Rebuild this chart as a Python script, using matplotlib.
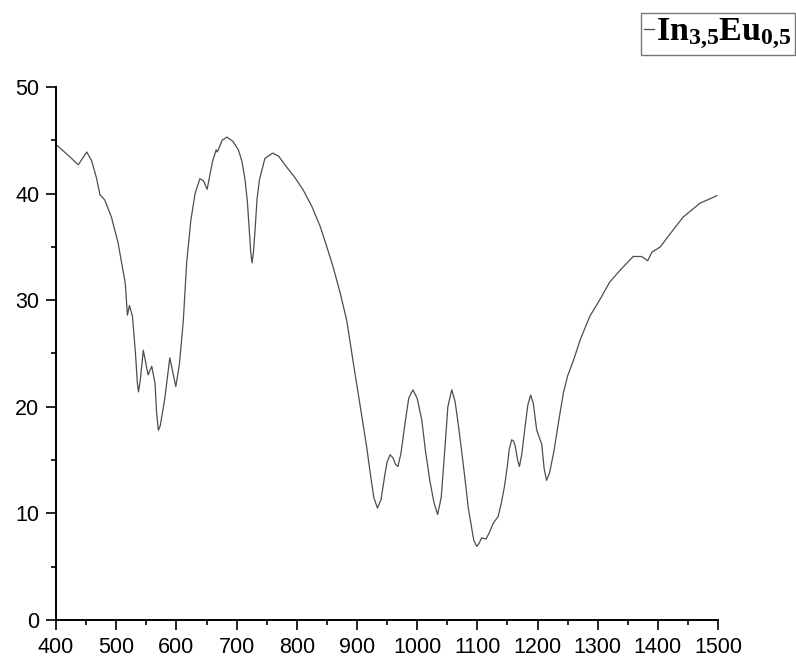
import matplotlib
matplotlib.use('Agg')
import matplotlib.pyplot as plt
from matplotlib.ticker import MultipleLocator

# wavenumber / transmittance
wavenumber = [400, 420, 437, 451, 459, 467, 473, 481, 492, 503, 515, 518.6, 522, 527, 532,
              535, 537, 540, 545, 553, 559, 564.5, 567, 570, 573, 577, 581, 589, 599, 605,
              611.5, 617, 624, 631, 639, 645, 651, 660, 666, 668, 676, 684, 694, 703, 709,
              714, 718, 721, 723.5, 725.7, 728, 730.7, 734, 738, 747, 760, 770, 783, 797,
              811, 825, 839, 850, 861, 872, 883, 894, 908, 916, 922, 928, 934, 940, 946,
              950, 955, 960, 964, 968, 973, 980, 986, 993, 1000, 1007.6, 1014, 1021, 1028,
              1034, 1040, 1046, 1051, 1057.5, 1063, 1068, 1074, 1080, 1085, 1090, 1094,
              1099, 1103, 1107, 1114.5, 1120, 1126.6, 1134.5, 1140, 1145, 1150, 1153, 1157,
              1160, 1163, 1167, 1170, 1174, 1179, 1184, 1188.7, 1193, 1198.7, 1207, 1211,
              1215, 1220, 1227.5, 1235, 1243, 1250, 1260, 1271, 1287, 1304, 1320, 1337,
              1359, 1373, 1383, 1390, 1404, 1420, 1442, 1470, 1498]
transmittance = [44.6, 43.6, 42.7, 43.9, 43.1, 41.5, 39.9, 39.4, 37.8, 35.4, 31.6, 28.6, 29.5,
                 28.5, 25.0, 22.3, 21.4, 22.5, 25.3, 23.0, 23.8, 22.2, 19.5, 17.8, 18.2, 19.5,
                 20.9, 24.6, 21.9, 24.0, 28.1, 33.5, 37.5, 40.0, 41.4, 41.2, 40.4, 43.0, 44.1,
                 43.9, 45.0, 45.3, 44.9, 44.1, 43.0, 41.3, 39.2, 36.6, 34.5, 33.5, 34.5, 36.6,
                 39.5, 41.3, 43.3, 43.8, 43.5, 42.5, 41.5, 40.3, 38.8, 36.9, 35.0, 33.0, 30.7,
                 28.1, 24.1, 19.1, 16.3, 13.8, 11.5, 10.5, 11.3, 13.5, 14.8, 15.5, 15.2, 14.6,
                 14.4, 15.6, 18.5, 20.8, 21.6, 20.8, 18.8, 15.8, 13.1, 11.0, 9.9, 11.5, 16.0,
                 20.0, 21.6, 20.5, 18.5, 15.8, 13.0, 10.5, 8.8, 7.5, 6.9, 7.2, 7.7, 7.6, 8.2,
                 9.1, 9.7, 11.0, 12.5, 14.5, 16.0, 16.9, 16.8, 16.3, 15.0, 14.4, 15.6, 18.0,
                 20.2, 21.1, 20.3, 17.8, 16.5, 14.2, 13.1, 13.8, 15.9, 18.6, 21.3, 22.9, 24.4,
                 26.3, 28.5, 30.1, 31.7, 32.8, 34.1, 34.1, 33.7, 34.5, 35.0, 36.2, 37.8, 39.1,
                 39.8]
label = r'$\mathbf{In_{3{,}5}Eu_{0{,}5}}$'

plt.rcParams['font.family'] = 'Liberation Sans'
plt.rcParams['mathtext.fontset'] = 'custom'
plt.rcParams['mathtext.rm'] = 'Liberation Serif:bold'
plt.rcParams['mathtext.bf'] = 'Liberation Serif:bold'

fig = plt.figure(figsize=(7.96, 6.57), dpi=100)
ax = fig.add_axes([0.0704, 0.0563, 0.8317, 0.8113])

ax.plot(wavenumber, transmittance, color='#4d4d4d', lw=0.9, label=label)

ax.set_xlim(400, 1500)
ax.set_ylim(0, 50)
ax.xaxis.set_major_locator(MultipleLocator(100))
ax.xaxis.set_minor_locator(MultipleLocator(50))
ax.yaxis.set_major_locator(MultipleLocator(10))
ax.yaxis.set_minor_locator(MultipleLocator(5))

for side in ['top', 'right']:
    ax.spines[side].set_visible(False)
for side in ['left', 'bottom']:
    ax.spines[side].set_linewidth(1.4)

ax.tick_params(which='major', direction='out', length=7, width=1.2, labelsize=15.5, pad=5)
ax.tick_params(which='minor', direction='out', length=3.5, width=1.2)

leg = ax.legend(loc='upper right', bbox_to_anchor=(0.999, 0.98), bbox_transform=fig.transFigure,
                fontsize=24.5, frameon=True, fancybox=False, handlelength=0.3,
                handletextpad=0.05, borderpad=0.1, borderaxespad=0)
leg.get_frame().set_edgecolor('#555555')
leg.get_frame().set_linewidth(1.0)

fig.savefig('out.png', dpi=100)
